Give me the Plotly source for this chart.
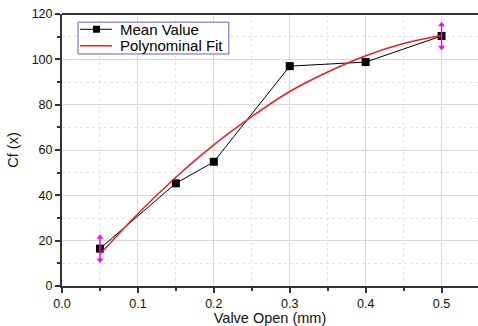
import plotly.graph_objects as go

valve_open = [0.05, 0.15, 0.2, 0.3, 0.4, 0.5]
mean_value = [16.5, 45.3, 54.8, 97.0, 98.8, 110.3]
err_idx = [0, 5]
err_size = [5.0, 5.0]

fit_x = [0.05, 0.1, 0.15, 0.2, 0.25, 0.3, 0.35, 0.4, 0.45, 0.5]
fit_y = [14.0, 31.9, 48.0, 62.3, 74.7, 85.8, 94.4, 101.6, 107.0, 110.5]

series_names = ["Mean Value", "Polynominal Fit"]

font = "Liberation Sans, Arial, sans-serif"
fig = go.Figure()

fig.add_trace(go.Scatter(x=valve_open, y=mean_value, mode="lines+markers", name=series_names[0],
                         line=dict(color="black", width=1),
                         marker=dict(symbol="square", size=8, color="black"), showlegend=False))
fig.add_trace(go.Scatter(x=fit_x, y=fit_y, mode="lines", name=series_names[1],
                         line=dict(color="#ee1c25", width=1.5, shape="spline"), showlegend=False))

ex = [valve_open[i] for i in err_idx]
ey = [mean_value[i] for i in err_idx]
fig.add_trace(go.Scatter(x=ex, y=ey, mode="markers", marker=dict(size=1, color="rgba(0,0,0,0)"),
                         error_y=dict(type="data", array=err_size, color="#ff00ff", thickness=1.5, width=0),
                         showlegend=False, hoverinfo="skip"))
fig.add_trace(go.Scatter(x=ex, y=[y + e for y, e in zip(ey, err_size)], mode="markers",
                         marker=dict(symbol="triangle-up", size=6, color="#ff00ff"), showlegend=False))
fig.add_trace(go.Scatter(x=ex, y=[y - e for y, e in zip(ey, err_size)], mode="markers",
                         marker=dict(symbol="triangle-down", size=6, color="#ff00ff"), showlegend=False))

# custom legend (paper coordinates)
lx0, lx1, ly0, ly1 = 0.0385, 0.401, 0.853, 0.970
row_y = [0.944, 0.883]
samp_x0, samp_x1, sq_x, txt_x = 0.043, 0.12, 0.083, 0.135
shapes = [
    dict(type="line", xref="paper", yref="paper", x0=0, x1=1, y0=1, y1=1,
         line=dict(color="#333", width=2)),
    dict(type="rect", xref="paper", yref="paper", x0=lx0, x1=lx1, y0=ly0, y1=ly1,
         line=dict(color="#6b5fb5", width=1), fillcolor="white", layer="above"),
    dict(type="line", xref="paper", yref="paper", x0=samp_x0, x1=samp_x1, y0=row_y[0], y1=row_y[0],
         line=dict(color="black", width=1.2), layer="above"),
    dict(type="rect", xref="paper", yref="paper", xsizemode="pixel", ysizemode="pixel",
         xanchor=sq_x, yanchor=row_y[0], x0=-3.5, x1=3.5, y0=-3.5, y1=3.5,
         line=dict(width=0), fillcolor="black", layer="above"),
    dict(type="line", xref="paper", yref="paper", x0=samp_x0, x1=samp_x1, y0=row_y[1], y1=row_y[1],
         line=dict(color="#ee1c25", width=1.5), layer="above"),
]
annotations = [
    dict(xref="paper", yref="paper", x=txt_x, y=ry, text=name, showarrow=False,
         xanchor="left", yanchor="middle", font=dict(size=15, color="#000", family=font))
    for name, ry in zip(series_names, row_y)
]

fig.update_layout(
    width=478, height=326,
    margin=dict(l=62, r=0, t=14, b=40),
    plot_bgcolor="white", paper_bgcolor="white",
    font=dict(family=font, size=12, color="#111"),
    showlegend=False,
    shapes=shapes, annotations=annotations,
)
fig.update_xaxes(range=[0, 0.548], tickvals=[0, 0.1, 0.2, 0.3, 0.4, 0.5],
                 ticktext=["0.0", "0.1", "0.2", "0.3", "0.4", "0.5"],
                 showline=True, linecolor="#333", linewidth=2,
                 ticks="outside", ticklen=5, tickcolor="#333", tickwidth=1.5,
                 showgrid=True, gridcolor="#d9d9d9", gridwidth=1, zeroline=False,
                 minor=dict(tickvals=[0.05, 0.15, 0.25, 0.35, 0.45], ticks="outside", ticklen=3,
                            tickcolor="#333", showgrid=True, gridcolor="#e3e3e3", griddash="dot"),
                 title=dict(text="Valve Open (mm)", font=dict(size=14.5), standoff=1),
                 tickfont=dict(size=12.5))
fig.update_yaxes(range=[0, 120], tickvals=[0, 20, 40, 60, 80, 100, 120],
                 showline=True, linecolor="#333", linewidth=2,
                 ticks="outside", ticklen=5, tickcolor="#333", tickwidth=1.5,
                 showgrid=True, gridcolor="#d9d9d9", gridwidth=1, zeroline=False,
                 minor=dict(tickvals=[10, 30, 50, 70, 90, 110], ticks="outside", ticklen=3,
                            tickcolor="#333", showgrid=True, gridcolor="#e3e3e3", griddash="dot"),
                 title=dict(text="Cf (x)", font=dict(size=14.5), standoff=10),
                 tickfont=dict(size=12.5))

fig.write_html("out.html")
